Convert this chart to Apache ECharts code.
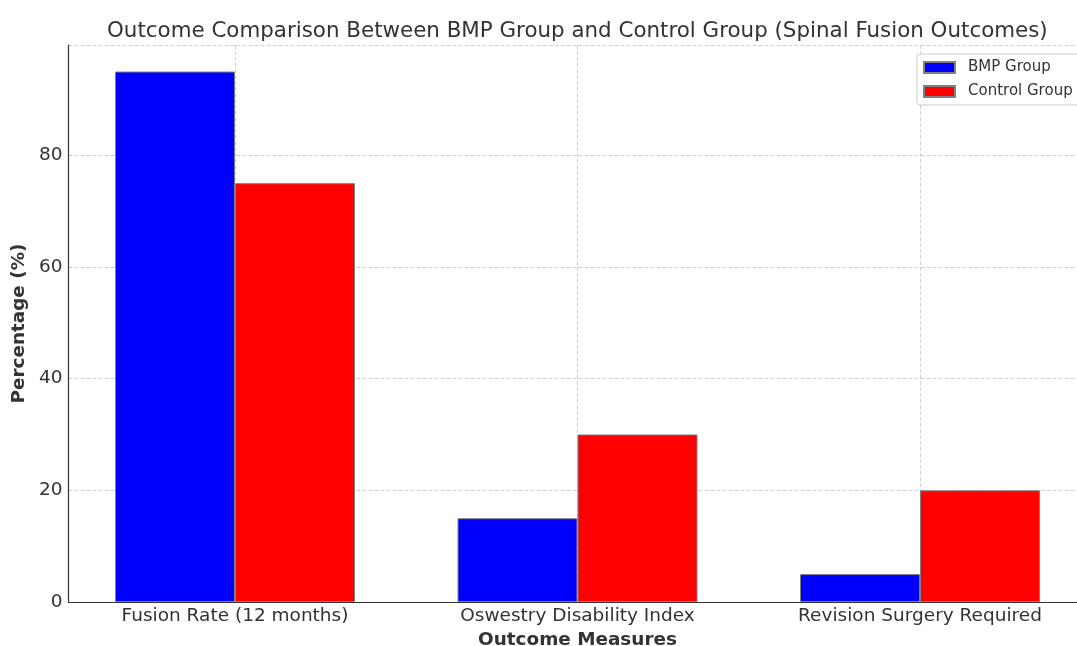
<!DOCTYPE html>
<html>
<head>
<meta charset="utf-8">
<script src="https://cdn.jsdelivr.net/npm/echarts@6/dist/echarts.min.js"></script>
<style>html,body{margin:0;padding:0;background:#fff}#c{width:1077px;height:646px}</style>
</head>
<body>
<div id="c"></div>
<script>
const categories = ['Fusion Rate (12 months)', 'Oswestry Disability Index', 'Revision Surgery Required'];
const bmpGroup = [95, 15, 5];
const controlGroup = [75, 30, 20];
const yTicks = [0, 20, 40, 60, 80];

const chart = echarts.init(document.getElementById('c'));
const font = 'DejaVu Sans';
const yMax = 99.75;
chart.setOption({
  animation: false,
  textStyle: { fontFamily: font },
  title: {
    text: 'Outcome Comparison Between BMP Group and Control Group (Spinal Fusion Outcomes)',
    left: 107, top: 21, padding: 0,
    textStyle: { fontFamily: font, fontSize: 21.4, fontWeight: 'normal', color: '#333' }
  },
  legend: {
    orient: 'vertical', left: 917, top: 54,
    padding: [6, 8, 6, 6], itemGap: 9, itemWidth: 31, itemHeight: 11,
    icon: 'rect',
    borderColor: '#ccc', borderWidth: 1, borderRadius: 3,
    backgroundColor: '#fff',
    textStyle: { fontFamily: font, fontSize: 15, color: '#333', padding: [0, 0, 0, 8] },
    data: ['BMP Group', 'Control Group']
  },
  grid: [
    { left: 63.75, right: -14.25, top: 45, bottom: 44, outerBoundsMode: 'none', containLabel: false },
    { left: 68.5, right: -9, top: 45, bottom: 44, outerBoundsMode: 'none', containLabel: false }
  ],
  xAxis: [
    {
      type: 'category', gridIndex: 0, data: categories,
      axisLine: { show: false }, axisTick: { show: false },
      axisLabel: { fontFamily: font, fontSize: 18.5, color: '#333', margin: 5 },
      splitLine: { show: true, alignWithLabel: true, lineStyle: { type: 'dashed', color: '#d0d0d0', width: 1 } },
      name: 'Outcome Measures', nameLocation: 'middle', nameGap: 27,
      nameTextStyle: { fontFamily: font, fontSize: 18.4, fontWeight: 'bold', color: '#333' }
    },
    {
      type: 'value', gridIndex: 1, min: 0, max: 1,
      axisLine: { show: true, lineStyle: { color: '#333', width: 1.2 } },
      axisTick: { show: false }, axisLabel: { show: false }, splitLine: { show: false }
    }
  ],
  yAxis: [
    {
      type: 'value', gridIndex: 0, min: 0, max: yMax,
      axisLine: { show: false }, axisTick: { show: false }, axisLabel: { show: false }, splitLine: { show: false }
    },
    {
      type: 'value', gridIndex: 1, min: 0, max: yMax, interval: 20,
      axisLine: { show: true, lineStyle: { color: '#333', width: 1.2 } },
      axisTick: { show: false },
      axisLabel: {
        fontFamily: font, fontSize: 18.5, color: '#333', margin: 6,
        formatter: v => (yTicks.indexOf(v) >= 0 ? String(v) : '')
      },
      splitLine: { show: true, lineStyle: { type: 'dashed', color: '#d0d0d0', width: 1 } },
      name: 'Percentage (%)', nameLocation: 'middle', nameGap: 34,
      nameTextStyle: { fontFamily: font, fontSize: 18.4, fontWeight: 'bold', color: '#333' }
    }
  ],
  series: [
    {
      name: 'BMP Group', type: 'bar', xAxisIndex: 0, yAxisIndex: 0,
      data: bmpGroup, barWidth: 120, barGap: '0%',
      itemStyle: { color: '#0000ff', borderColor: '#808080', borderWidth: 1 }
    },
    {
      name: 'Control Group', type: 'bar', xAxisIndex: 0, yAxisIndex: 0,
      data: controlGroup, barWidth: 120, barGap: '0%',
      itemStyle: { color: '#ff0000', borderColor: '#808080', borderWidth: 1 }
    }
  ]
});
</script>
</body>
</html>
